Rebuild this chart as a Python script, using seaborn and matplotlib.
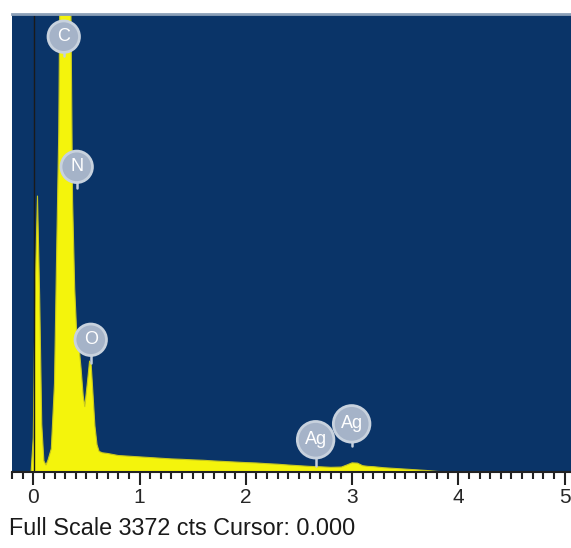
import matplotlib
matplotlib.use("Agg")
import matplotlib.pyplot as plt
import seaborn as sns
from matplotlib.ticker import MultipleLocator

# EDS spectrum (keV, counts); the C peak runs off the top
energy_kev = [-0.20, -0.02, 0.00, 0.02, 0.04, 0.06, 0.08, 0.10, 0.12, 0.14,
              0.17, 0.20, 0.22, 0.24, 0.26, 0.28, 0.32, 0.35, 0.37, 0.39,
              0.41, 0.425, 0.435, 0.45, 0.47, 0.485, 0.51, 0.53, 0.545, 0.56,
              0.58, 0.60, 0.62, 0.65, 0.70, 0.80, 0.90, 1.00, 1.10, 1.20,
              1.30, 1.40, 1.50, 1.60, 1.70, 1.80, 1.90, 2.00, 2.10, 2.20,
              2.30, 2.40, 2.50, 2.60, 2.70, 2.80, 2.90, 2.95, 3.00, 3.05,
              3.10, 3.15, 3.20, 3.30, 3.40, 3.50, 3.60, 3.70, 3.80, 3.90,
              5.06]
counts = [0, 0, 250, 1400, 2030, 1300, 350, 80, 50, 90,
          170, 650, 1600, 2500, 4500, 5500, 5200, 3800, 2000, 1350,
          1000, 900, 885, 760, 560, 480, 660, 815, 790, 600,
          340, 200, 150, 140, 135, 120, 115, 110, 105, 100,
          95, 92, 88, 85, 80, 76, 72, 68, 65, 60,
          56, 50, 45, 40, 37, 33, 35, 50, 66, 64,
          45, 40, 38, 30, 25, 20, 15, 10, 3, 0,
          0]

full_scale = 3372

# element markers: name, line energy, label height, stem bottom
peak_names = ["C", "N", "O", "Ag", "Ag"]
peak_kev = [0.287, 0.409, 0.541, 2.657, 2.996]
label_cts = [3203, 2245, 972, 236, 353]
stem_cts = [3060, 2090, 800, 45, 190]

sns.set_style("white")
plt.rcParams['font.family'] = ['Liberation Sans', 'DejaVu Sans']

fig = plt.figure(figsize=(5.71, 5.48), dpi=100)
ax = fig.add_axes([0.021, 0.139, 0.979, 0.836])
ax.set_facecolor('#0a3468')

ax.fill_between(energy_kev, counts, color='#f4f40c', linewidth=0)
sns.lineplot(x=energy_kev, y=counts, color='#c8c820', linewidth=0.8, ax=ax)

# cursor line at 0
ax.axvline(0.01, color='#1a1a1a', linewidth=1.0)

for name, xk, yl, ys in zip(peak_names, peak_kev, label_cts, stem_cts):
    ax.plot([xk, xk], [ys, yl], color='#c5cfdc', linewidth=1.8)
    ax.text(xk, yl, name, ha='center', va='center', color='white', fontsize=13,
            bbox=dict(boxstyle='circle,pad=0.4', facecolor='#a5b3c8',
                      edgecolor='#c8d2de', linewidth=2))

ax.set_xlim(-0.2, 5.06)
ax.set_ylim(0, full_scale)
ax.set_yticks([])
ax.xaxis.set_major_locator(MultipleLocator(1))
ax.xaxis.set_minor_locator(MultipleLocator(0.1))
ax.tick_params(axis='x', which='major', direction='out', length=9, width=1.5,
               color='#222222', labelsize=15, pad=3, bottom=True)
ax.tick_params(axis='x', which='minor', direction='out', length=5, width=1.5,
               color='#222222', bottom=True)

for side in ['left', 'right']:
    ax.spines[side].set_visible(False)
ax.spines['top'].set_color('#8ca0b8')
ax.spines['top'].set_linewidth(2)
ax.spines['bottom'].set_color('#222222')
ax.spines['bottom'].set_linewidth(1.5)

fig.text(0.016, 0.036, "Full Scale %d cts Cursor: 0.000" % full_scale,
         fontsize=16.8, color='#1a1a1a', ha='left', va='center')

fig.savefig("out.png", dpi=100)
